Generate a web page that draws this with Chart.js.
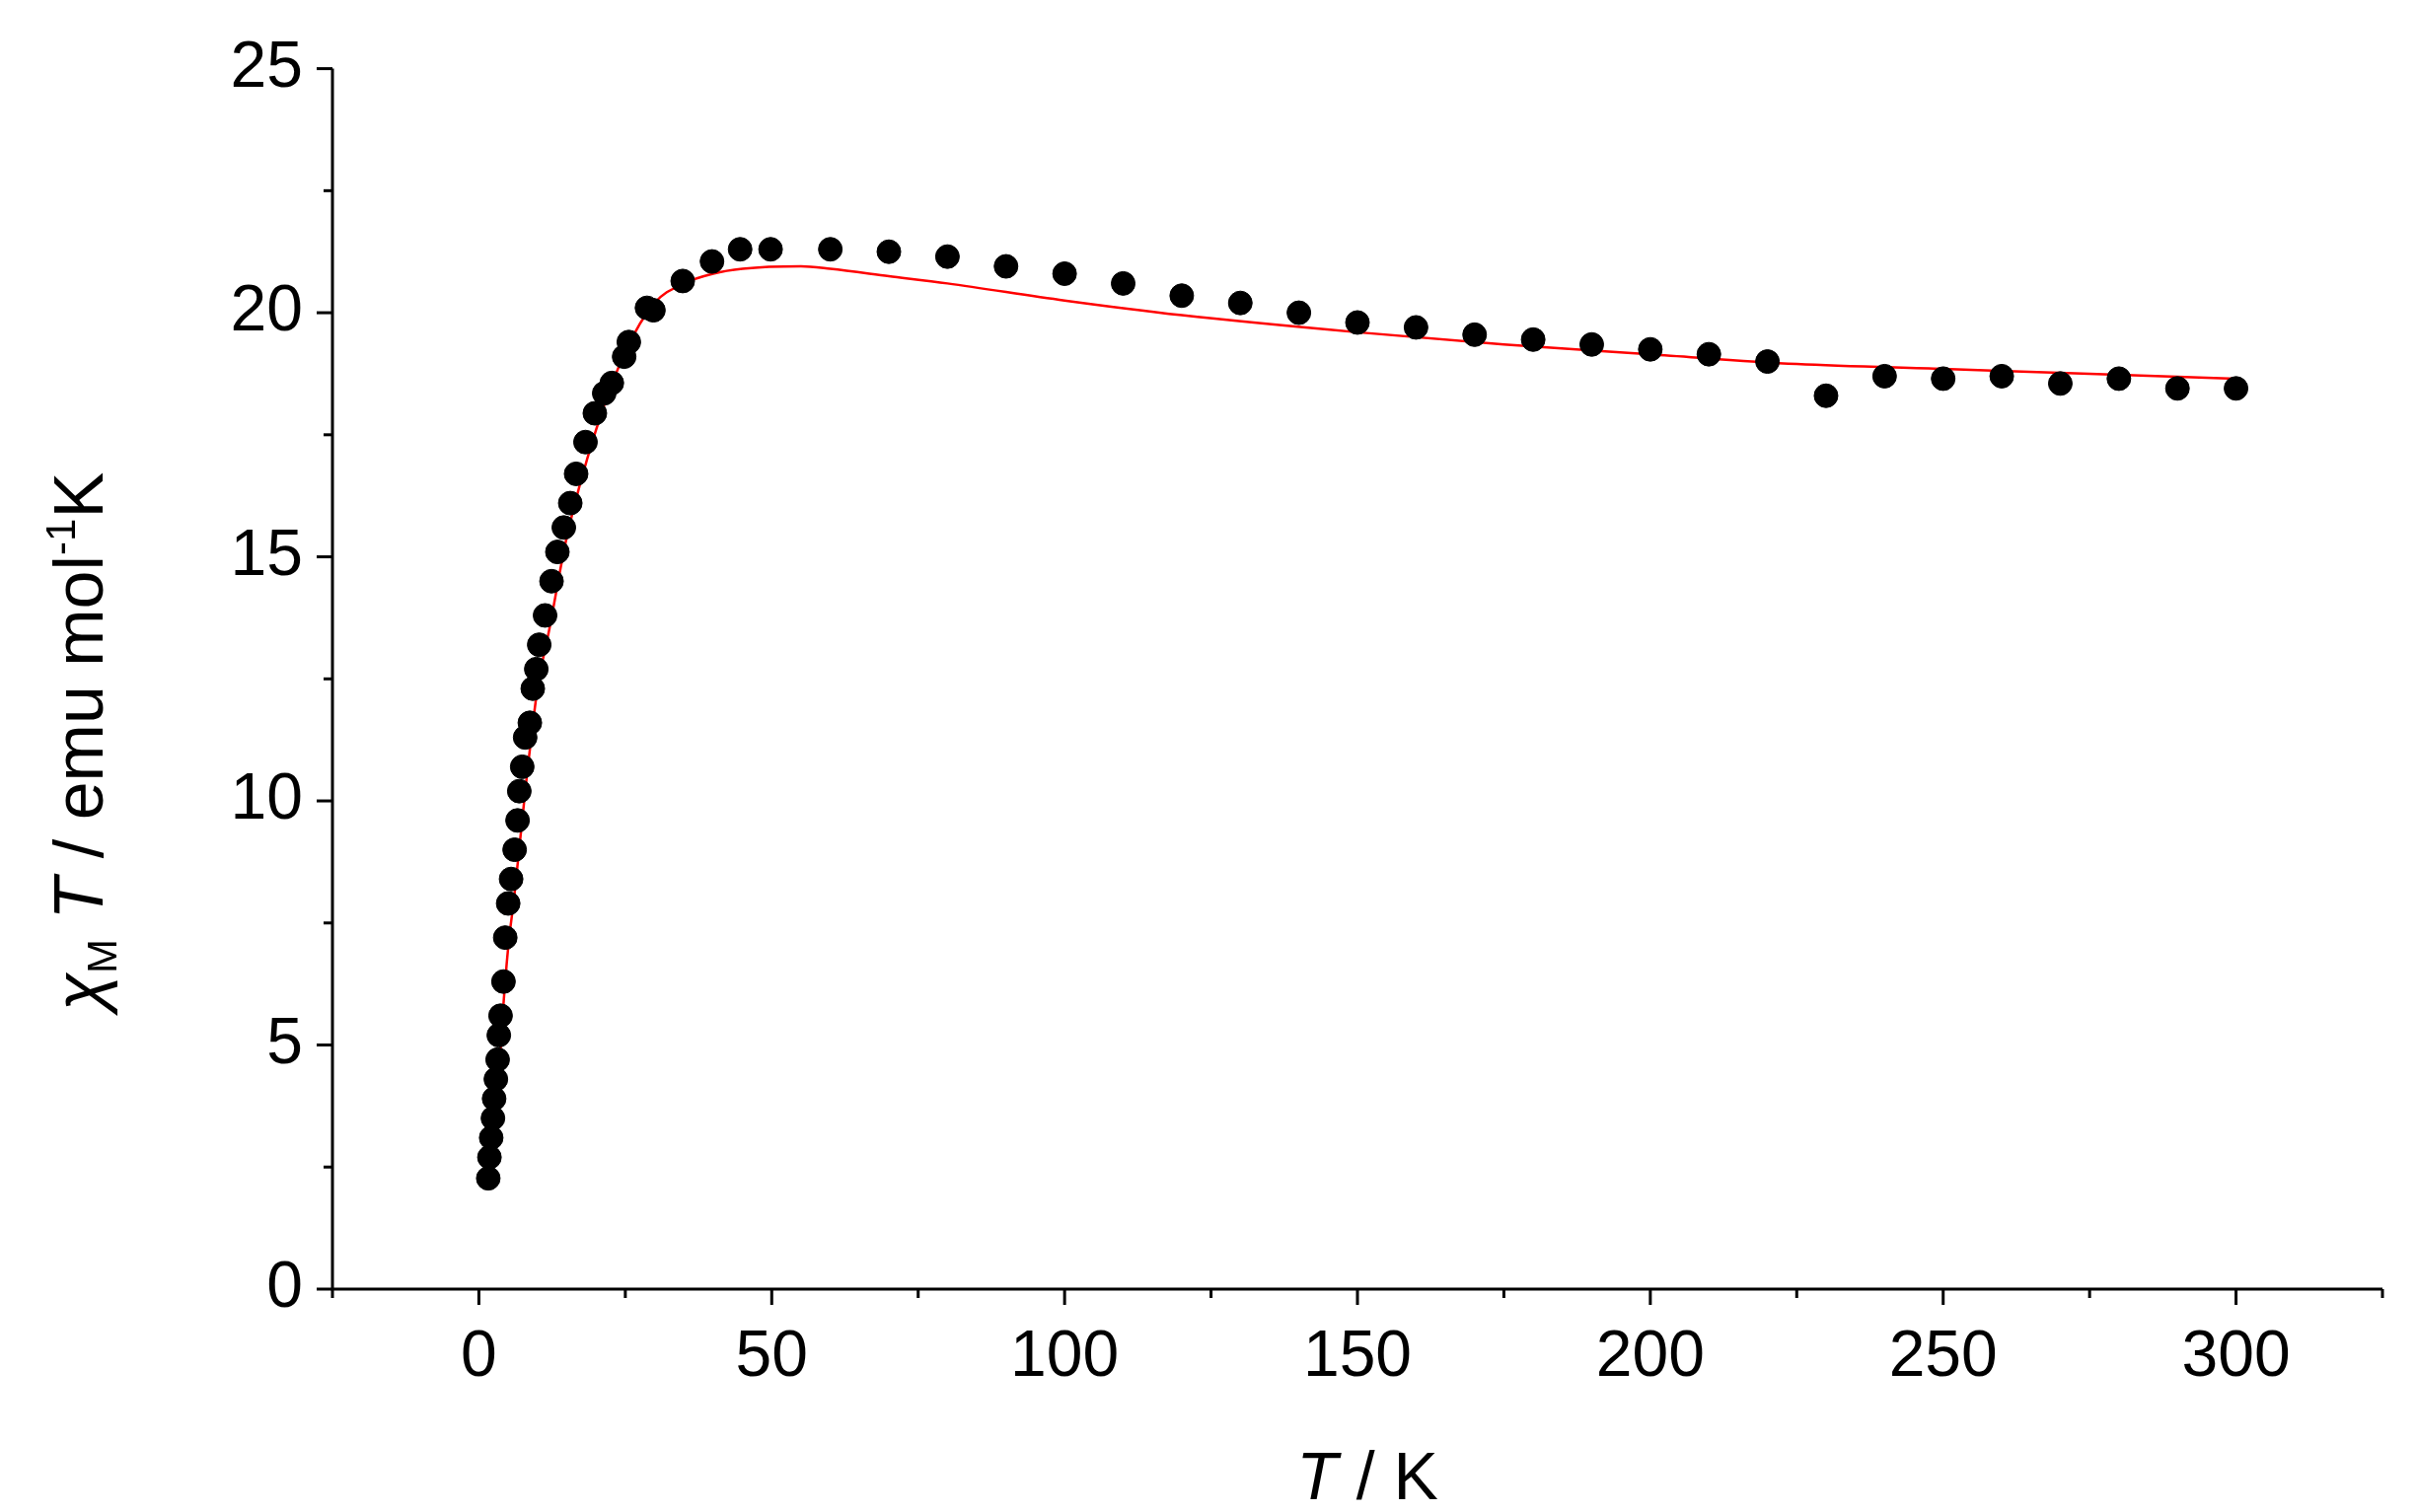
<!DOCTYPE html>
<html>
<head>
<meta charset="utf-8">
<script src="https://cdn.jsdelivr.net/npm/chart.js@4"></script>
<style>
  html, body { margin: 0; padding: 0; background: #fff; }
  #wrap { width: 2449px; height: 1533px; }
</style>
</head>
<body>
<div id="wrap"><canvas id="chart"></canvas></div>
<script>
// measured points (T / K, chiM*T)
const tempData = [1.6, 1.8, 2.1, 2.4, 2.6, 2.9, 3.2, 3.4, 3.7, 4.2, 4.5, 5.0, 5.5, 6.1, 6.6, 6.9, 7.4, 7.9,
    8.7, 9.2, 9.8, 10.3, 11.3, 12.4, 13.4, 14.5, 15.6, 16.6, 18.2, 19.8, 21.4, 22.7, 24.8, 25.6, 28.7, 29.8,
    34.8, 39.8, 44.6, 49.8, 60, 70, 80, 90, 100, 110, 120, 130, 140, 150, 160, 170, 180, 190, 200, 210,
    220, 230, 240, 250, 260, 270, 280, 290, 300];
const chiTData = [2.27, 2.7, 3.1, 3.5, 3.9, 4.3, 4.7, 5.2, 5.6, 6.3, 7.2, 7.9, 8.4, 9.0, 9.6, 10.2, 10.7, 11.3,
    11.6, 12.3, 12.7, 13.2, 13.8, 14.5, 15.1, 15.6, 16.1, 16.7, 17.35, 17.94, 18.35, 18.56, 19.1, 19.4, 20.1, 20.05,
    20.65, 21.05, 21.3, 21.3, 21.3, 21.25, 21.15, 20.95, 20.8, 20.6, 20.35, 20.2, 20.0, 19.8, 19.7, 19.55, 19.45, 19.35, 19.25, 19.15,
    19.0, 18.3, 18.7, 18.65, 18.7, 18.55, 18.65, 18.45, 18.45];

// fitted curve
const fitT = [3, 4, 5, 6, 8, 10, 12, 15, 20, 25, 30, 35, 40, 45, 55, 60, 70, 80, 100, 120, 150, 175, 200, 225, 250, 275, 300];
const fitChiT = [3.5, 5.5, 7.0, 8.0, 10.3, 12.3, 13.5, 15.4, 17.6, 19.2, 20.2, 20.6, 20.8, 20.9, 20.95, 20.9, 20.75, 20.6,
    20.25, 19.95, 19.6, 19.35, 19.15, 18.95, 18.85, 18.75, 18.65];

const xMajor = [0, 50, 100, 150, 200, 250, 300];
const yMajor = [0, 5, 10, 15, 20, 25];

const FONT = '"Liberation Sans", Arial, sans-serif';

// draws axis lines, major/minor ticks and the axis titles
const axisDecor = {
    id: 'axisDecor',
    afterDraw(chart) {
        const ctx = chart.ctx;
        const xs = chart.scales.x, ys = chart.scales.y;
        const area = chart.chartArea;
        ctx.save();
        ctx.strokeStyle = '#000';
        ctx.lineWidth = 3;
        ctx.beginPath();
        ctx.moveTo(area.left, area.top);
        ctx.lineTo(area.left, area.bottom);
        ctx.lineTo(area.right, area.bottom);
        ctx.stroke();

        for (let v = -25; v <= 325; v += 25) {
            const px = xs.getPixelForValue(v);
            const len = v % 50 === 0 ? 16 : 9;
            ctx.beginPath();
            ctx.moveTo(px, area.bottom);
            ctx.lineTo(px, area.bottom + len);
            ctx.stroke();
        }
        for (let v = 0; v <= 25; v += 2.5) {
            const py = ys.getPixelForValue(v);
            const len = v % 5 === 0 ? 16 : 9;
            ctx.beginPath();
            ctx.moveTo(area.left, py);
            ctx.lineTo(area.left - len, py);
            ctx.stroke();
        }

        // x title: T / K
        ctx.fillStyle = '#000';
        ctx.textBaseline = 'alphabetic';
        const xParts = [['italic 68px ' + FONT, 'T'], ['68px ' + FONT, ' / K']];
        let w = 0;
        xParts.forEach(p => { ctx.font = p[0]; w += ctx.measureText(p[1]).width; });
        let x = (xs.getPixelForValue(-25) + xs.getPixelForValue(325)) / 2 - w / 2 + 10;
        xParts.forEach(p => { ctx.font = p[0]; ctx.fillText(p[1], x, 1520); x += ctx.measureText(p[1]).width; });

        // y title: chi_M T / emu mol^-1 K
        ctx.translate(104, 752);
        ctx.rotate(-Math.PI / 2);
        const yParts = [
            ['italic 70px ' + FONT, 'χ', 0],
            ['42px ' + FONT, 'M', 14],
            ['italic 70px ' + FONT, ' T', 0],
            ['70px ' + FONT, ' / emu mol', 0],
            ['42px ' + FONT, '-1', -28],
            ['70px ' + FONT, 'K', 0]
        ];
        w = 0;
        yParts.forEach(p => { ctx.font = p[0]; w += ctx.measureText(p[1]).width; });
        x = -w / 2;
        yParts.forEach(p => { ctx.font = p[0]; ctx.fillText(p[1], x, p[2]); x += ctx.measureText(p[1]).width; });
        ctx.restore();
    }
};

function initializeChart() {
    const ctx = document.getElementById('chart').getContext('2d');
    new Chart(ctx, {
        type: 'scatter',
        data: {
            datasets: [{
                label: 'data',
                data: tempData.map((t, i) => ({ x: t, y: chiTData[i] })),
                backgroundColor: '#000',
                borderColor: '#000',
                pointRadius: 12,
                pointHoverRadius: 12
            }, {
                label: 'fit',
                type: 'line',
                data: fitT.map((t, i) => ({ x: t, y: fitChiT[i] })),
                borderColor: '#ff0000',
                borderWidth: 2.5,
                pointRadius: 0,
                tension: 0.4,
                cubicInterpolationMode: 'monotone',
                fill: false
            }]
        },
        options: {
            responsive: false,
            animation: false,
            devicePixelRatio: 1,
            layout: { padding: { top: 37, right: 34, left: 0, bottom: 0 } },
            plugins: { legend: { display: false }, tooltip: { enabled: false } },
            scales: {
                x: {
                    type: 'linear', min: -25, max: 325,
                    afterFit: s => { s.height = 226; },
                    afterBuildTicks: s => { s.ticks = xMajor.map(v => ({ value: v })); },
                    grid: { display: false, drawTicks: false },
                    border: { display: false },
                    ticks: { color: '#000', font: { family: FONT, size: 66 }, padding: 30, maxRotation: 0 }
                },
                y: {
                    type: 'linear', min: 0, max: 25,
                    afterFit: s => { s.width = 337; },
                    afterBuildTicks: s => { s.ticks = yMajor.map(v => ({ value: v })); },
                    grid: { display: false, drawTicks: false },
                    border: { display: false },
                    ticks: { color: '#000', font: { family: FONT, size: 66 }, padding: 30 }
                }
            }
        },
        plugins: [axisDecor]
    });
}

const cv = document.getElementById('chart');
cv.width = 2449;
cv.height = 1533;
window.onload = initializeChart;
</script>
</body>
</html>
